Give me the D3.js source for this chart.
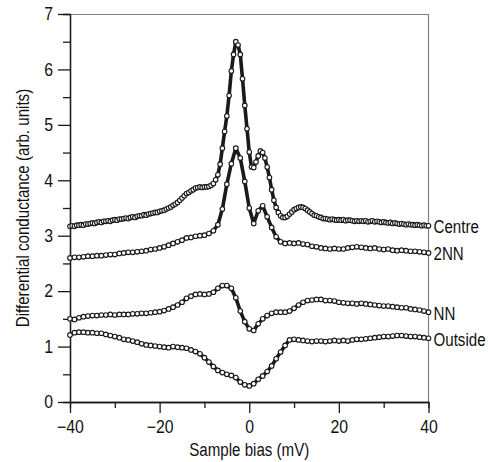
<!DOCTYPE html>
<html>
<head>
<meta charset="utf-8">
<script src="https://cdn.jsdelivr.net/npm/d3@7"></script>
<style>
  html, body { margin: 0; padding: 0; background: #fff; overflow: hidden; }
  svg { display: block; }
  svg text { font-family: "Liberation Sans", Arial, Helvetica, sans-serif; }
</style>
</head>
<body>
<svg id="chart"></svg>
<script>
// series names, as printed at the right end of each curve
let seriesNames = ['Centre', '2NN', 'NN', 'Outside']

// sample bias grids (mV): the centre spectrum is sampled twice as densely
let biasFine = d3.range(-40, 40.25, 0.5)
let biasCoarse = d3.range(-40, 40.5, 1)

// differential conductance (arb. units)
let centre = [
  3.17, 3.18, 3.17, 3.19, 3.19, 3.20, 3.19, 3.21, 3.21, 3.22,
  3.23, 3.22, 3.24, 3.25, 3.24, 3.26, 3.26, 3.27, 3.26, 3.28,
  3.29, 3.28, 3.30, 3.30, 3.31, 3.32, 3.31, 3.33, 3.34, 3.33,
  3.35, 3.36, 3.36, 3.38, 3.37, 3.39, 3.40, 3.41, 3.42, 3.42,
  3.44, 3.45, 3.46, 3.48, 3.50, 3.52, 3.55, 3.57, 3.60, 3.64,
  3.68, 3.72, 3.76, 3.78, 3.81, 3.83, 3.86, 3.87, 3.88, 3.87,
  3.88, 3.88, 3.89, 3.91, 3.94, 4.01, 4.10, 4.29, 4.58, 4.88,
  5.16, 5.53, 5.97, 6.27, 6.50, 6.44, 6.27, 5.83, 5.35, 4.93,
  4.51, 4.24, 4.23, 4.33, 4.44, 4.53, 4.50, 4.40, 4.24, 4.05,
  3.83, 3.64, 3.51, 3.42, 3.36, 3.33, 3.33, 3.35, 3.39, 3.43,
  3.47, 3.49, 3.51, 3.52, 3.51, 3.49, 3.46, 3.43, 3.40, 3.37,
  3.36, 3.34, 3.33, 3.31, 3.31, 3.30, 3.29, 3.30, 3.29, 3.28,
  3.29, 3.28, 3.29, 3.27, 3.28, 3.28, 3.27, 3.26, 3.27, 3.26,
  3.27, 3.26, 3.27, 3.25, 3.26, 3.27, 3.25, 3.26, 3.25, 3.24,
  3.25, 3.24, 3.23, 3.24, 3.22, 3.23, 3.22, 3.21, 3.22, 3.21,
  3.20, 3.21, 3.20, 3.20, 3.19, 3.20, 3.19, 3.18, 3.19, 3.18,
  3.18
]

let nn2 = [
  2.60, 2.61, 2.61, 2.62, 2.63, 2.63, 2.64, 2.64, 2.65, 2.66,
  2.66, 2.68, 2.69, 2.70, 2.70, 2.71, 2.72, 2.73, 2.75, 2.76,
  2.78, 2.80, 2.83, 2.86, 2.89, 2.92, 2.96, 2.97, 2.99, 3.00,
  3.01, 3.04, 3.09, 3.20, 3.48, 3.93, 4.30, 4.58, 4.40, 3.98,
  3.50, 3.22, 3.45, 3.54, 3.34, 3.15, 2.98, 2.89, 2.86, 2.87,
  2.86, 2.87, 2.85, 2.84, 2.81, 2.80, 2.78, 2.77, 2.76, 2.77,
  2.76, 2.76, 2.78, 2.79, 2.80, 2.79, 2.78, 2.77, 2.78, 2.76,
  2.75, 2.76, 2.74, 2.73, 2.74, 2.73, 2.72, 2.72, 2.71, 2.70,
  2.69
]

let nn = [
  1.50, 1.49, 1.52, 1.54, 1.55, 1.56, 1.56, 1.57, 1.57, 1.58,
  1.57, 1.58, 1.58, 1.58, 1.59, 1.59, 1.60, 1.60, 1.61, 1.62,
  1.63, 1.65, 1.68, 1.71, 1.75, 1.80, 1.87, 1.91, 1.94, 1.95,
  1.94, 1.95, 1.98, 2.05, 2.10, 2.10, 2.05, 1.88, 1.64, 1.45,
  1.32, 1.29, 1.41, 1.50, 1.56, 1.60, 1.62, 1.62, 1.62, 1.64,
  1.69, 1.75, 1.80, 1.83, 1.84, 1.85, 1.85, 1.83, 1.83, 1.82,
  1.80, 1.79, 1.78, 1.78, 1.77, 1.78, 1.77, 1.76, 1.75, 1.74,
  1.73, 1.73, 1.72, 1.71, 1.70, 1.70, 1.68, 1.67, 1.66, 1.64,
  1.62
]

let outside = [
  1.21, 1.25, 1.26, 1.26, 1.25, 1.25, 1.24, 1.24, 1.22, 1.20,
  1.18, 1.16, 1.13, 1.12, 1.10, 1.08, 1.05, 1.03, 1.02, 1.01,
  1.00, 0.99, 0.98, 1.00, 0.99, 0.98, 0.97, 0.94, 0.91, 0.87,
  0.80, 0.72, 0.64, 0.57, 0.53, 0.50, 0.48, 0.44, 0.36, 0.31,
  0.29, 0.33, 0.41, 0.47, 0.55, 0.65, 0.78, 0.90, 1.02, 1.12,
  1.13, 1.12, 1.11, 1.10, 1.09, 1.10, 1.10, 1.09, 1.10, 1.11,
  1.10, 1.11, 1.10, 1.12, 1.13, 1.13, 1.14, 1.15, 1.16, 1.17,
  1.18, 1.18, 1.19, 1.20, 1.20, 1.19, 1.18, 1.18, 1.17, 1.16,
  1.15
]

let yTicks = [0, 1, 2, 3, 4, 5, 6, 7]
let yMinorTicks = [0.5, 1.5, 2.5, 3.5, 4.5, 5.5, 6.5]
let xTicks = [-40, -20, 0, 20, 40]
let xMinorTicks = [-30, -10, 10, 30]

// layout
let outerWidth = 488
let outerHeight = 462
let margins = { top: 14, bottom: 60, left: 70, right: 59.5 }
let innerWidth = outerWidth - margins.left - margins.right
let innerHeight = outerHeight - margins.top - margins.bottom

// the figure uses a condensed sans; squeeze Liberation Sans horizontally
let squeeze = 0.84

let svg = d3.select('svg#chart')
  .attr('width', outerWidth)
  .attr('height', outerHeight)

let inner = svg.append('g')
  .attr('transform', 'translate(' + margins.left + ',' + margins.top + ')')

let xScale = d3.scaleLinear().domain([-40, 40]).range([0, innerWidth])
let yScale = d3.scaleLinear().domain([0, 7]).range([innerHeight, 0])

// shrink a text's advance width with textLength, keeping its x/y anchor
function condense(sel, sx) {
  sel.each(function () {
    let w = this.getComputedTextLength()
    if (w > 0) {
      d3.select(this)
        .attr('textLength', w * sx)
        .attr('lengthAdjust', 'spacingAndGlyphs')
    }
  })
}

// top and right frame
inner.append('path')
  .attr('d', `M0,0.5H${innerWidth}V${innerHeight}`)
  .attr('fill', 'none')
  .attr('stroke', '#808080')
  .attr('stroke-width', 1.2)

// axes
function styleAxis(g) {
  g.attr('font-family', null).attr('font-size', null)
  g.selectAll('path, line').attr('stroke', '#1a1a1a').attr('stroke-width', 1.3)
  g.selectAll('text').attr('font-size', 18).attr('fill', '#111')
    .call(condense, 0.88)
}

// minor ticks carry no labels, so drop their empty text nodes
function minorAxis(g) {
  g.selectAll('text').remove()
  g.selectAll('path, line').attr('stroke', '#1a1a1a').attr('stroke-width', 1.3)
}

inner.append('g')
  .call(d3.axisLeft(yScale).tickValues(yMinorTicks).tickSize(7))
  .call(minorAxis)
inner.append('g')
  .call(d3.axisLeft(yScale).tickValues(yTicks).tickSize(12).tickSizeOuter(0)
    .tickPadding(5).tickFormat(d3.format('d')))
  .call(styleAxis)

inner.append('g')
  .attr('transform', 'translate(0,' + innerHeight + ')')
  .call(d3.axisBottom(xScale).tickValues(xMinorTicks).tickSize(6))
  .call(minorAxis)
inner.append('g')
  .attr('transform', 'translate(0,' + innerHeight + ')')
  .call(d3.axisBottom(xScale).tickValues(xTicks).tickSize(11).tickSizeOuter(0)
    .tickPadding(7).tickFormat(d3.format('d')))
  .call(styleAxis)

// axis titles
svg.append('text')
  .attr('x', margins.left + xScale(0))
  .attr('y', 456)
  .attr('text-anchor', 'middle')
  .attr('font-size', 18)
  .attr('fill', '#111')
  .text('Sample bias (mV)')
  .call(condense, squeeze)

svg.append('text')
  .attr('transform', `translate(29,${margins.top + innerHeight / 2}) rotate(-90)`)
  .attr('text-anchor', 'middle')
  .attr('font-size', 18)
  .attr('fill', '#111')
  .text('Differential conductance (arb. units)')
  .call(condense, squeeze)

// curves
let series = [
  { name: seriesNames[0], bias: biasFine, values: centre },
  { name: seriesNames[1], bias: biasCoarse, values: nn2 },
  { name: seriesNames[2], bias: biasCoarse, values: nn },
  { name: seriesNames[3], bias: biasCoarse, values: outside },
]

let line = d3.line()
  .x(d => xScale(d[0]))
  .y(d => yScale(d[1]))

series.forEach(s => {
  let pts = s.values.map((v, i) => [s.bias[i], v])
  let g = inner.append('g')

  g.append('path')
    .datum(pts)
    .attr('d', line)
    .attr('fill', 'none')
    .attr('stroke', '#1a1a1a')
    .attr('stroke-width', 3.6)
    .attr('stroke-linejoin', 'round')

  g.selectAll('circle')
    .data(pts)
    .join('circle')
    .attr('cx', d => xScale(d[0]))
    .attr('cy', d => yScale(d[1]))
    .attr('r', 2.3)
    .attr('fill', '#fff')
    .attr('stroke', '#1a1a1a')
    .attr('stroke-width', 1.1)

  // label at the right end
  let last = pts[pts.length - 1]
  inner.append('text')
    .attr('x', innerWidth + 5)
    .attr('y', yScale(last[1]) + 1)
    .attr('dy', '0.35em')
    .attr('font-size', 18)
    .attr('fill', '#111')
    .text(s.name)
    .call(condense, squeeze)
})
</script>
</body>
</html>
